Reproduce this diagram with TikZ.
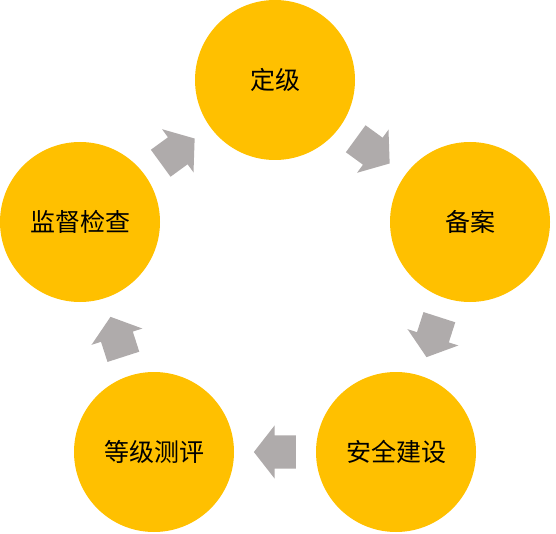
\documentclass[tikz,border=0pt]{standalone}
\usepackage{fontspec}
\newfontfamily\cjk{Noto Sans CJK SC}
\usetikzlibrary{shapes.arrows}
\definecolor{gold}{HTML}{FFC000}
\definecolor{arrowgray}{HTML}{AFABAB}
\tikzset{
  stage/.style={circle, fill=gold, minimum size=160pt, inner sep=0pt, font=\cjk\fontsize{25pt}{30pt}\selectfont, text=black},
  cyclearrow/.style={single arrow, fill=arrowgray, draw=none, minimum width=0pt, minimum height=42pt,
    inner xsep=0pt, inner ysep=16.5pt, single arrow head extend=10pt, single arrow tip angle=104,
    sloped, allow upside down, anchor=tail, pos=0.413}
}
\begin{document}
\begin{tikzpicture}[x=1pt,y=-1pt]
\useasboundingbox (0,0) rectangle (556,534);
\node[stage] (dj) at (275,80) {定级};
\node[stage] (ba) at (470,222) {备案};
\node[stage] (aq) at (396,452) {安全建设};
\node[stage] (dc) at (154,452) {等级测评};
\node[stage] (jd) at (80,222) {监督检查};
\path (dj.center) -- (ba.center) node[cyclearrow] (a1) {};
\path (ba.center) -- (aq.center) node[cyclearrow] (a2) {};
\path (aq.center) -- (dc.center) node[cyclearrow] (a3) {};
\path (dc.center) -- (jd.center) node[cyclearrow] (a4) {};
\path (jd.center) -- (dj.center) node[cyclearrow] (a5) {};
\end{tikzpicture}
\end{document}
